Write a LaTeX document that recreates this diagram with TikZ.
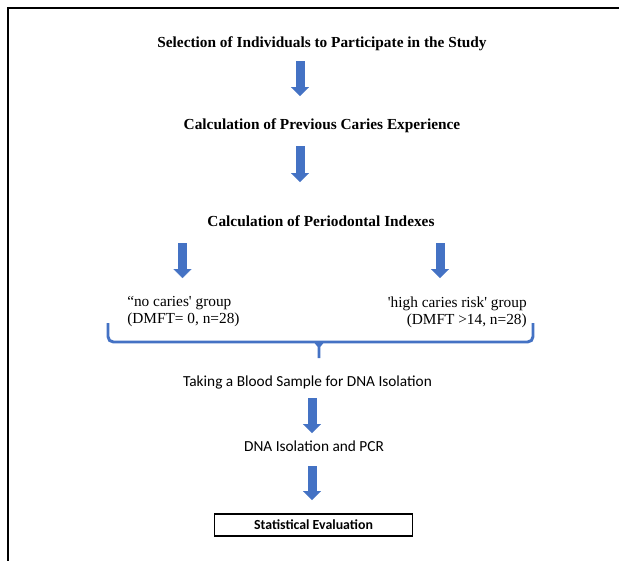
\documentclass[tikz,border=0pt]{standalone}
\usepackage{fontspec}
\setmainfont{Liberation Serif}
\newfontfamily\calibrifont{Carlito}
\usetikzlibrary{arrows.meta}

\definecolor{arrowblue}{HTML}{4472C4}
\definecolor{arrowedge}{HTML}{3A64B0}

\tikzset{
  serifhead/.style={font=\fontsize{11.5}{14}\selectfont\bfseries, inner sep=0pt},
  grouptext/.style={font=\fontsize{11.5}{12.75}\selectfont, inner sep=0pt},
  calitext/.style={font=\calibrifont\fontsize{11.5}{14}\selectfont, inner sep=0pt},
  blockarrow/.style={arrowblue, line width=6.75pt, -{Triangle[width=13.5pt, length=6.75pt, line width=0.1pt]}},
  bracket/.style={arrowblue, line width=2.2pt, rounded corners=4pt}
}

\begin{document}
\begin{tikzpicture}[x=0.75pt, y=-0.75pt]
\useasboundingbox (0, 0) rectangle (619, 561);

\draw[line width=1.9pt] (619, 8) -- (8, 8) -- (8, 561);

\node[serifhead] (sel) at (322, 44) {Selection of Individuals to Participate in the Study};

\coordinate (a1s) at (300, 61);
\coordinate (a1e) at (300, 96);
\draw[blockarrow] (a1s) -- (a1e);

\node[serifhead] (prev) at (322, 126) {Calculation of Previous Caries Experience};

\coordinate (a2s) at (300, 146);
\coordinate (a2e) at (300, 182);
\draw[blockarrow] (a2s) -- (a2e);

\node[serifhead] (perio) at (321, 221) {Calculation of Periodontal Indexes};

\coordinate (a3s) at (182.5, 243);
\coordinate (a3e) at (182.5, 278);
\draw[blockarrow] (a3s) -- (a3e);

\coordinate (a4s) at (440, 243);
\coordinate (a4e) at (440, 278);
\draw[blockarrow] (a4s) -- (a4e);

\node[grouptext, anchor=west, align=left] (noc) at (127, 312) {``no caries\textquotesingle{} group\\(DMFT= 0, n=28)};

\node[grouptext, anchor=east, align=right] (high) at (527, 312) {\textquotesingle high caries risk\textquotesingle{} group\hspace{7.5pt}\\(DMFT >14, n=28)};

\coordinate (bl) at (108, 323);
\coordinate (bm) at (319, 358);
\coordinate (br) at (533, 323);
\draw[bracket] (bl) |- (bm |- 0, 342) -| (br);
\fill[arrowblue] (313, 341) -- (325, 341) -- (320.3, 347) -- (320.3, 358) -- (317.7, 358) -- (317.7, 347) -- cycle;

\node[calitext] (blood) at (307.5, 382) {Taking a Blood Sample for DNA Isolation};

\coordinate (a5s) at (312, 398);
\coordinate (a5e) at (312, 433);
\draw[blockarrow] (a5s) -- (a5e);

\node[calitext] (dna) at (314, 446) {DNA Isolation and PCR};

\coordinate (a6s) at (312, 466);
\coordinate (a6e) at (312, 500);
\draw[blockarrow] (a6s) -- (a6e);

\node[draw, line width=0.8pt, minimum width=149pt, minimum height=16.5pt, inner sep=0pt,
      font=\calibrifont\fontsize{10.4}{12}\selectfont\bfseries] (stat) at (313.5, 525) {Statistical Evaluation};
\end{tikzpicture}
\end{document}
